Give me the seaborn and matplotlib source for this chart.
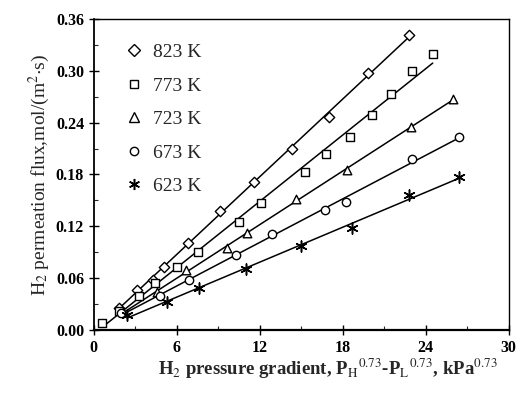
import matplotlib
matplotlib.use("Agg")
import matplotlib.pyplot as plt
import seaborn as sns
import numpy as np
from matplotlib.lines import Line2D
from matplotlib.ticker import MultipleLocator

# ---- data ----
labels = ["823 K", "773 K", "723 K", "673 K", "623 K"]

x_823 = [1.8, 3.1, 4.3, 5.1, 6.8, 9.1, 11.6, 14.3, 17.0, 19.8, 22.8]
y_823 = [0.026, 0.046, 0.058, 0.073, 0.101, 0.138, 0.171, 0.210, 0.247, 0.297, 0.341]

x_773 = [0.6, 1.8, 3.3, 4.4, 6.0, 7.5, 10.5, 12.1, 15.3, 16.8, 18.5, 20.1, 21.5, 23.0, 24.5]
y_773 = [0.008, 0.022, 0.040, 0.054, 0.073, 0.090, 0.125, 0.147, 0.183, 0.204, 0.223, 0.249, 0.273, 0.300, 0.319]

x_723 = [2.1, 4.6, 6.7, 9.6, 11.1, 14.6, 18.3, 22.9, 26.0]
y_723 = [0.021, 0.044, 0.069, 0.095, 0.112, 0.152, 0.185, 0.235, 0.267]

x_673 = [2.0, 4.8, 6.9, 10.3, 12.9, 16.7, 18.2, 23.0, 26.4]
y_673 = [0.020, 0.040, 0.058, 0.087, 0.111, 0.139, 0.148, 0.198, 0.223]

x_623 = [2.4, 5.3, 7.6, 11.0, 15.0, 18.7, 22.8, 26.4]
y_623 = [0.017, 0.033, 0.049, 0.071, 0.097, 0.118, 0.156, 0.177]

xs = [x_823, x_773, x_723, x_673, x_623]
ys = [y_823, y_773, y_723, y_673, y_623]

x_ticks = [0, 6, 12, 18, 24, 30]
y_ticks = [0.00, 0.06, 0.12, 0.18, 0.24, 0.30, 0.36]

# ---- style ----
sns.set_theme(style="ticks")
plt.rcParams['font.family'] = ['Liberation Serif', 'DejaVu Serif']
plt.rcParams['mathtext.fontset'] = 'stix'

markers = ['D', 's', '^', 'o', (6, 2, 0)]
sizes = [28, 32, 38, 36, 64]

fig = plt.figure(figsize=(5.24, 3.93), dpi=100)
ax = fig.add_axes([0.179, 0.160, 0.792, 0.792])

for x, y, m, s in zip(xs, ys, markers, sizes):
    sns.regplot(x=np.array(x), y=np.array(y), ax=ax, scatter=False, ci=None,
                truncate=True, line_kws=dict(color='black', lw=1.1))
    if m == (6, 2, 0):
        sns.scatterplot(x=x, y=y, ax=ax, marker=m, s=s, color='black',
                        linewidth=1.1, zorder=3)
    else:
        sns.scatterplot(x=x, y=y, ax=ax, marker=m, s=s, facecolor='white',
                        edgecolor='black', linewidth=1.0, zorder=3)

ax.set_xlim(0, 30)
ax.set_ylim(0, 0.36)
ax.set_xticks(x_ticks)
ax.set_yticks(y_ticks)
ax.set_xticklabels([str(v) for v in x_ticks])
ax.set_yticklabels([f"{v:.2f}" for v in y_ticks])
ax.xaxis.set_minor_locator(MultipleLocator(3))
ax.yaxis.set_minor_locator(MultipleLocator(0.03))
ax.tick_params(which='major', direction='inout', length=7, width=1.0,
               labelsize=11.5, colors='black', top=False, right=False)
ax.tick_params(which='minor', direction='in', length=3, width=0.8,
               top=False, right=False)
for lab in ax.get_xticklabels() + ax.get_yticklabels():
    lab.set_fontweight('bold')
for sp in ax.spines.values():
    sp.set_visible(True)
    sp.set_color('black')
    sp.set_linewidth(1.0)
ax.spines['bottom'].set_linewidth(1.6)
ax.spines['left'].set_linewidth(1.3)

ax.set_xlabel(r"H$_2$ pressure gradient, P$_{\mathrm{H}}$$^{0.73}$-P$_{\mathrm{L}}$$^{0.73}$, kPa$^{0.73}$",
              fontsize=13.5, fontweight='bold')
ax.xaxis.set_label_coords(0.565, -0.085)
ax.set_ylabel(r"H$_2$ permeation flux,mol/(m$^2$$\cdot$s)", fontsize=14, labelpad=3)

handles = []
for m, lab in zip(markers, labels):
    if m == (6, 2, 0):
        h = Line2D([], [], ls='none', marker=m, color='black', markersize=8, mew=1.1)
    else:
        h = Line2D([], [], ls='none', marker=m, markerfacecolor='white',
                   markeredgecolor='black', markersize=6 if m != '^' else 6.5, mew=1.0)
    handles.append(h)
ax.legend(handles=handles, labels=labels, loc='upper left', frameon=False,
          fontsize=14, labelspacing=0.82, handletextpad=0.5, handlelength=1.0,
          borderaxespad=0.3, bbox_to_anchor=(0.04, 0.965))

fig.savefig("out.png", dpi=100)
